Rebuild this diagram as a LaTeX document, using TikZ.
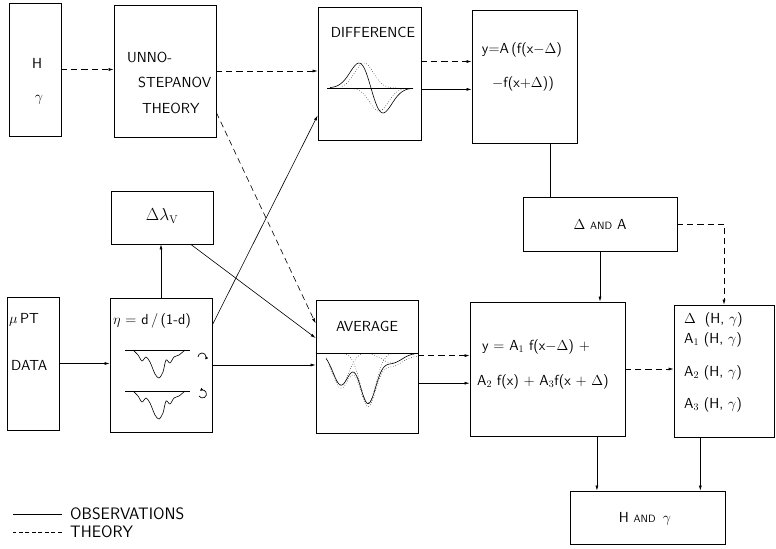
\documentclass[tikz,border=0pt]{standalone}
\usepackage{fontspec}
\usepackage{amsmath}
\usetikzlibrary{arrows.meta,positioning}

\newcommand\lett{\fontsize{14.5}{16}\selectfont\sffamily\addfontfeatures{LetterSpace=10}}
\newcommand\sm[1]{{\fontsize{10.5}{11}\selectfont #1}}

\begin{document}
\begin{tikzpicture}[
  x=0.35mm, y=-0.35mm,
  blk/.style 2 args={draw, line width=0.8pt, inner sep=0pt,
                     minimum width=#1*0.35mm, minimum height=#2*0.35mm},
  lbl/.style={font=\lett, inner sep=0pt},
  arr/.style={-{Latex[length=5pt,width=3pt]}, line width=0.6pt},
  thy/.style={dash pattern=on 6pt off 4pt},
  crv/.style={line width=0.6pt},
  dcrv/.style={line width=0.5pt, dotted},
]
\useasboundingbox (0,0) rectangle (776,548);

% ======= top row =======
\node[blk={52}{133}]  (hy)   at (35,69.5) {};
\node[lbl] (hyH) at (37,63)  {H};
\node[lbl] (hyG) at (39,100) {$\gamma$};

\node[blk={102}{132}] (unno) at (165,71) {};
\node[lbl, anchor=west] (unno1) at (127,57)  {UNNO-};
\node[lbl, anchor=west] (unno2) at (138,82)  {STEPANOV};
\node[lbl, anchor=west] (unno3) at (142,108) {THEORY};

\node[blk={103}{133}] (diff) at (369.5,73.5) {};
\node[lbl] (diffT) at (373,32) {DIFFERENCE};

\node[blk={105}{133}] (ya)   at (524.5,76.5) {};
\node[lbl] (ya1t) at (522,50) {y=A\,(f(x$-\Delta$)};
\node[lbl] (ya2t) at (523,84) {$-$f(x+$\Delta$))};

% ======= middle row =======
\node[blk={102}{53}]  (dla)  at (162,217.5) {};
\node[lbl] (dlaT) at (162,216) {\fontsize{16}{18}\selectfont$\Delta\lambda_{\mathrm{V}}$};

\node[blk={154}{54}]  (da)   at (600,224) {};
\node[lbl] (daT) at (600,224) {$\Delta$ \sm{AND} A};

% ======= bottom row =======
\node[blk={52}{133}]  (mu)   at (33,363.5) {};
\node[lbl, anchor=west] (mu1) at (9,320) {$\mu$\,PT};
\node[lbl, anchor=west] (mu2) at (11,365) {DATA};

\node[blk={102}{134}] (eta)  at (161,365) {};
\node[lbl, anchor=west] (etaT) at (113,321) {$\eta$ = d\,/\,(1-d)};

\node[blk={102}{133}] (avg)  at (367,366.5) {};
\node[lbl] (avgT) at (367,326) {AVERAGE};
\coordinate (avgcut) at (0,353);
\draw[line width=0.8pt] (avg.west |- avgcut) -- (avg.east |- avgcut);

\node[blk={155}{134}] (ya1)  at (547.5,369) {};
\node[lbl, anchor=west] (ya1a) at (482,347) {y = A$_1$ f(x$-\Delta$) +};
\node[lbl, anchor=west] (ya1b) at (477,382) {A$_2$ f(x) + A$_3$f(x + $\Delta$)};

\node[blk={100}{132}] (dh)   at (724,371) {};
\node[lbl, anchor=west] (dh0) at (684,320) {$\Delta$ \;(H, $\gamma$)};
\node[lbl, anchor=west] (dh1) at (684,340) {A$_1$ (H, $\gamma$)};
\node[lbl, anchor=west] (dh2) at (684,373) {A$_2$ (H, $\gamma$)};
\node[lbl, anchor=west] (dh3) at (684,405) {A$_3$ (H, $\gamma$)};

\node[blk={155}{53}]  (hg)   at (647.5,517.5) {};
\node[lbl] (hgT) at (645,519) {H \sm{AND} \,$\gamma$};

% ======= curves =======
% difference
\draw[crv] (327,88) -- (413,88);
\draw[crv] plot[domain=330:413, samples=70]
  (\x, {88-3.43*(371-\x)*exp(-(\x-371)*(\x-371)/288)});
\draw[dcrv] plot[domain=342:398, samples=50]
  (\x, {88-25*exp(-(\x-364)*(\x-364)/180)});
\draw[dcrv] plot[domain=352:406, samples=50]
  (\x, {88+23*exp(-(\x-379)*(\x-379)/180)});

% observed profiles
\foreach \yb in {350,391} {
  \draw[crv] (125,\yb) -- (190,\yb);
  \draw[crv] plot[smooth] coordinates {(133,\yb) (138,\yb+5) (142,\yb+11)
    (146,\yb+7) (150,\yb+12) (155,\yb+24) (159,\yb+28) (163,\yb+22)
    (166,\yb+10) (170,\yb+13) (174,\yb+7) (179,\yb+5) (185,\yb)};
}
\draw[-{Latex[length=3pt,width=3pt]}, line width=0.7pt]
  (198,357) arc[start angle=180, end angle=-40, radius=4pt];
\draw[-{Latex[length=3pt,width=3pt]}, line width=0.7pt]
  (199,396) arc[start angle=-150, end angle=130, radius=4pt];

% average
\draw[crv] plot[domain=326:418, samples=80]
  (\x, {353+32*exp(-(\x-341)*(\x-341)/128)+50*exp(-(\x-368)*(\x-368)/128)+10*exp(-(\x-392)*(\x-392)/200)});
\draw[dcrv] plot[domain=329:418, samples=80]
  (\x, {356+32*exp(-(\x-341)*(\x-341)/128)+50*exp(-(\x-368)*(\x-368)/128)+10*exp(-(\x-392)*(\x-392)/200)});
\draw[dcrv] plot[domain=326:366, samples=40]
  (\x, {353+32*exp(-(\x-341)*(\x-341)/128)});
\draw[dcrv] plot[domain=344:394, samples=40]
  (\x, {353+50*exp(-(\x-368)*(\x-368)/128)});
\draw[dcrv] plot[domain=372:418, samples=40]
  (\x, {353+10*exp(-(\x-392)*(\x-392)/200)});

% ======= connectors =======
\draw[arr, thy] (hy.east)   -- (hy.east -| unno.west);
\draw[arr, thy] (unno.east) -- (unno.east -| diff.west);
\draw[arr, thy] (unno.-39)  -- (avg.140);
\draw[arr] (eta.38)  -- (diff.219);
\draw[arr] (dla.-43) -- (avg.151);
\draw[arr] (eta.north) -- (eta.north |- dla.south);
\draw[arr] (mu.east)   -- (mu.east -| eta.west);
\draw[arr] (eta.east)  -- (eta.east -| avg.west);
\draw[arr, thy] (diff.13)  -- (diff.13 -| ya.west);
\draw[arr] (diff.-17) -- (diff.-17 -| ya.west);
\draw[arr, thy] (avg.12)  -- (avg.12 -| ya1.west);
\draw[arr] (avg.-18) -- (avg.-18 -| ya1.west);
\draw[arr, thy] (ya1.east) -- (ya1.east -| dh.west);
\draw[line width=0.6pt] (ya.-69) -- (ya.-69 |- da.north);
\draw[arr] (da.south) -- (da.south |- ya1.north);
\draw[arr, thy] (da.east) -| (dh.north);
\draw[arr] (hg.152 |- ya1.south) -- (hg.152);
\draw[arr] (hg.27 |- dh.south)   -- (hg.27);

% ======= legend =======
\node[lbl, anchor=west, font=\lett\fontsize{16.5}{17}\selectfont] (obsT) at (70,514) {OBSERVATIONS};
\node[lbl, anchor=west, font=\lett\fontsize{16.5}{17}\selectfont] (thyT) at (70,532) {THEORY};
\draw[line width=0.6pt] (obsT.west) ++(-8,0) -- ++(-49,0);
\draw[line width=0.6pt, dash pattern=on 4pt off 2.5pt] (thyT.west) ++(-8,0) -- ++(-49,0);

\end{tikzpicture}
\end{document}
